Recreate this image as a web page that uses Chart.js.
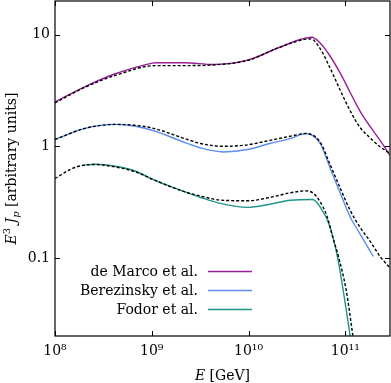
<!DOCTYPE html>
<html>
<head>
<meta charset="utf-8">
<script src="https://cdn.jsdelivr.net/npm/chart.js@4"></script>
<style>
  html, body { margin: 0; padding: 0; background: #fff; }
  #wrap { width: 391px; height: 383px; position: relative; }
</style>
</head>
<body>
<div id="wrap"><canvas id="c" width="391" height="383"></canvas></div>
<script>
// ---- data ----
const xTickValues = [1e8, 1e9, 1e10, 1e11];
const xTickLabels = ['10⁸', '10⁹', '10¹⁰', '10¹¹'];
const yTickValues = [0.1, 1, 10];
const yTickLabels = ['0.1', '1', '10'];

const seriesNames = ['de Marco et al.', 'Berezinsky et al.', 'Fodor et al.'];

const deMarcoE = [1e8, 2e8, 4.2e8, 8.5e8, 1.1e9, 2.2e9, 4.3e9, 1e10, 2.1e10, 4.5e10, 5.5e10, 6.9e10, 8.9e10, 1.12e11, 1.41e11, 1.82e11, 2.29e11, 2.9e11];
const deMarcoJ = [2.49, 3.39, 4.46, 5.36, 5.59, 5.59, 5.40, 5.94, 7.71, 9.46, 8.4, 6.5, 4.49, 3.05, 2.09, 1.49, 1.13, 0.83];
const deMarcoFitE = [1e8, 2e8, 4.2e8, 1.1e9, 2.2e9, 4.3e9, 1e10, 2.1e10, 4.4e10, 5.5e10, 6.9e10, 8.9e10, 1.12e11, 1.41e11, 1.82e11, 2.29e11, 2.9e11];
const deMarcoFitJ = [2.45, 3.35, 4.31, 5.28, 5.28, 5.35, 5.9, 7.7, 9.16, 7.5, 5.11, 3.16, 2.09, 1.49, 1.18, 0.99, 0.86];

const berezE = [1e8, 2e8, 4.2e8, 6.8e8, 1.07e9, 2.2e9, 3.2e9, 5.5e9, 9.8e9, 1.66e10, 2.7e10, 3.9e10, 5.5e10, 6.9e10, 8.9e10, 1.12e11, 1.41e11, 1.95e11];
const berezJ = [1.15, 1.44, 1.57, 1.51, 1.37, 1.08, 0.966, 0.889, 0.935, 1.06, 1.17, 1.30, 1.06, 0.653, 0.378, 0.234, 0.166, 0.103];
const berezFitE = [1e8, 2e8, 4.2e8, 6.8e8, 1.07e9, 2.2e9, 3.2e9, 5.5e9, 9.8e9, 1.66e10, 2.7e10, 3.9e10, 5.5e10, 6.9e10, 8.9e10, 1.12e11, 1.41e11, 1.82e11, 2.29e11, 2.9e11];
const berezFitJ = [1.15, 1.44, 1.57, 1.54, 1.44, 1.17, 1.06, 1.0, 1.03, 1.13, 1.23, 1.30, 1.09, 0.70, 0.419, 0.268, 0.190, 0.140, 0.103, 0.0815];

const fodorE = [1.9e8, 2.6e8, 4.2e8, 6.8e8, 1.07e9, 2.2e9, 3.2e9, 5.1e9, 9.8e9, 1.66e10, 2.7e10, 4.6e10, 5.5e10, 6.9e10, 8.3e10, 9.5e10, 1.12e11, 1.17e11];
const fodorJ = [0.676, 0.690, 0.662, 0.598, 0.497, 0.391, 0.348, 0.308, 0.284, 0.303, 0.329, 0.334, 0.287, 0.193, 0.103, 0.0518, 0.0202, 0.015];
const fodorFitE = [1e8, 1.6e8, 2.6e8, 4.2e8, 6.8e8, 1.07e9, 2.2e9, 3.2e9, 5.1e9, 9.8e9, 1.66e10, 2.7e10, 3.9e10, 4.7e10, 5.5e10, 6.5e10, 7.4e10, 8.5e10, 1.02e11, 1.2e11];
const fodorFitJ = [0.515, 0.646, 0.687, 0.653, 0.590, 0.497, 0.391, 0.358, 0.330, 0.325, 0.348, 0.383, 0.399, 0.378, 0.318, 0.234, 0.155, 0.103, 0.052, 0.020];

// ---- styling ----
const colors = ['#9a1d99', '#5b8def', '#1f958a'];
const FONT = "'DejaVu Serif', 'Liberation Serif', serif";

function pts(xs, ys) { return xs.map((x, i) => ({ x: x, y: ys[i] })); }

function solid(label, xs, ys, color) {
  return { label: label, data: pts(xs, ys), borderColor: color, backgroundColor: color,
    borderWidth: 1.4, pointRadius: 0, cubicInterpolationMode: 'monotone', fill: false, order: 2 };
}
function dashed(xs, ys) {
  return { label: '', isFit: true, data: pts(xs, ys), borderColor: '#000', borderWidth: 1.4,
    borderDash: [3, 2], pointRadius: 0, cubicInterpolationMode: 'monotone', fill: false, order: 1 };
}

const framePlugin = {
  id: 'frame',
  afterDatasetsDraw(chart) {
    const ctx = chart.ctx;
    const a = chart.chartArea;
    const xs = chart.scales.x, ys = chart.scales.y;
    ctx.save();
    ctx.strokeStyle = '#000';
    ctx.lineWidth = 1.2;
    ctx.strokeRect(a.left, a.top, a.right - a.left, a.bottom - a.top);
    ctx.lineWidth = 1;
    const L = 5;
    xs.ticks.forEach(t => {
      const p = Math.round(xs.getPixelForValue(t.value)) + 0.5;
      ctx.beginPath();
      ctx.moveTo(p, a.bottom); ctx.lineTo(p, a.bottom - L);
      ctx.moveTo(p, a.top); ctx.lineTo(p, a.top + L);
      ctx.stroke();
    });
    ys.ticks.forEach(t => {
      const p = Math.round(ys.getPixelForValue(t.value)) + 0.5;
      ctx.beginPath();
      ctx.moveTo(a.left, p); ctx.lineTo(a.left + L, p);
      ctx.moveTo(a.right, p); ctx.lineTo(a.right - L, p);
      ctx.stroke();
    });

    // legend (text right-aligned, sample line to the right)
    const legX = 198, lineX0 = 208, lineX1 = 252, legY0 = 271.5, legDy = 19;
    ctx.font = '14px ' + FONT;
    ctx.textAlign = 'right';
    ctx.textBaseline = 'middle';
    ctx.fillStyle = '#000';
    const solids = chart.data.datasets.filter(d => !d.isFit);
    solids.forEach((d, i) => {
      const y = legY0 + i * legDy;
      ctx.fillText(d.label, legX, y + 1);
      ctx.strokeStyle = d.borderColor;
      ctx.lineWidth = 1.4;
      ctx.beginPath();
      ctx.moveTo(lineX0, y); ctx.lineTo(lineX1, y);
      ctx.stroke();
    });

    // axis titles (mixed italic / upright)
    function drawPieces(pieces, x, y, align) {
      let total = 0;
      pieces.forEach(p => { ctx.font = p.f; p.w = ctx.measureText(p.t).width; total += p.w; });
      let cx = align === 'center' ? x - total / 2 : x;
      ctx.textAlign = 'left';
      ctx.textBaseline = 'alphabetic';
      pieces.forEach(p => { ctx.font = p.f; ctx.fillText(p.t, cx, y + (p.dy || 0)); cx += p.w; });
    }
    ctx.fillStyle = '#000';
    const xc = (a.left + a.right) / 2;
    drawPieces([
      { t: 'E', f: 'italic 14px ' + FONT },
      { t: ' [GeV]', f: '14px ' + FONT }
    ], xc, 380, 'center');

    ctx.save();
    ctx.translate(16, (a.top + a.bottom) / 2);
    ctx.rotate(-Math.PI / 2);
    drawPieces([
      { t: 'E', f: 'italic 14px ' + FONT },
      { t: '3', f: '10px ' + FONT, dy: -6 },
      { t: ' J', f: 'italic 14px ' + FONT },
      { t: 'p', f: 'italic 10px ' + FONT, dy: 3 },
      { t: ' [arbitrary units]', f: '14px ' + FONT }
    ], 0, 0, 'center');
    ctx.restore();
    ctx.restore();
  }
};

new Chart(document.getElementById('c'), {
  type: 'line',
  data: {
    datasets: [
      solid(seriesNames[0], deMarcoE, deMarcoJ, colors[0]),
      solid(seriesNames[1], berezE, berezJ, colors[1]),
      solid(seriesNames[2], fodorE, fodorJ, colors[2]),
      dashed(deMarcoFitE, deMarcoFitJ),
      dashed(berezFitE, berezFitJ),
      dashed(fodorFitE, fodorFitJ)
    ]
  },
  options: {
    responsive: false,
    animation: false,
    devicePixelRatio: 1,
    layout: { padding: { top: 1, right: 1, left: 0, bottom: 0 } },
    plugins: { legend: { display: false }, tooltip: { enabled: false }, title: { display: false } },
    scales: {
      x: {
        type: 'logarithmic', min: 1e8, max: 2.9e11,
        grid: { display: false, drawTicks: false }, border: { display: false },
        afterBuildTicks: s => { s.ticks = xTickValues.map(v => ({ value: v })); },
        afterFit: s => { s.height = 47; s.paddingLeft = 0; s.paddingRight = 0; },
        ticks: {
          autoSkip: false, maxRotation: 0, padding: 7, color: '#000',
          font: { family: FONT, size: 14 },
          callback: v => { const i = xTickValues.indexOf(v); return i >= 0 ? xTickLabels[i] : ''; }
        }
      },
      y: {
        type: 'logarithmic', min: 0.02, max: 20,
        grid: { display: false, drawTicks: false }, border: { display: false },
        afterBuildTicks: s => { s.ticks = yTickValues.map(v => ({ value: v })); },
        afterFit: s => { s.width = 55; s.paddingTop = 0; s.paddingBottom = 0; },
        ticks: {
          autoSkip: false, padding: 5, color: '#000',
          font: { family: FONT, size: 14 },
          callback: v => { const i = yTickValues.indexOf(v); return i >= 0 ? yTickLabels[i] : ''; }
        }
      }
    }
  },
  plugins: [framePlugin]
});
</script>
</body>
</html>
